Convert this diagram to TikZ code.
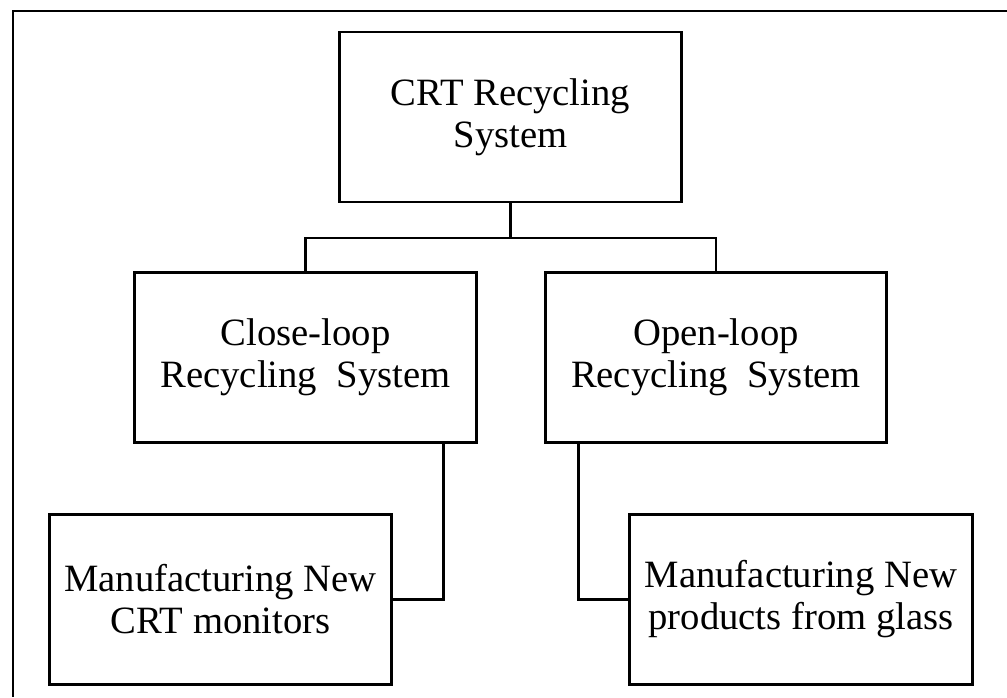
\documentclass[tikz,border=0pt]{standalone}
\usepackage{fontspec}
\setmainfont{Liberation Serif}
\usepackage{tikz}
\usetikzlibrary{positioning, calc}

\begin{document}
\begin{tikzpicture}[
    x=0.75pt, y=-0.75pt,
    system/.style={draw, line width=2.2pt, minimum width=256pt, minimum height=127.5pt, inner sep=2pt, align=center, font=\fontsize{29}{31.5}\selectfont},
    link/.style={line width=2.2pt}
]
    \useasboundingbox (0,0) rectangle (1007,697);
    % frame
    \draw[line width=1.5pt] (1007,11) -- (13,11) -- (13,697);

    % boxes
    \node[system] (crt) at (510.5,117) {CRT Recycling\\System};
    \node[system] (closeloop) at (305.5,357.5) {Close-loop\\Recycling\ \ System};
    \node[system] (openloop) at (716,357.5) {Open-loop\\Recycling\ \ System};
    \node[system, minimum width=257pt] (newcrt) at (220.5,599.5) {Manufacturing New\\CRT monitors};
    \node[system, minimum width=257pt] (newglass) at (801,599.5) {Manufacturing New\\products from glass};

    % connections
    \coordinate (split) at (crt.south |- 0,238);
    \draw[link] (crt.south) -- (split);
    \draw[link] (closeloop.north) |- (split) -| (openloop.north);
    \draw[link] (newcrt.east) -| ([xshift=-25.5pt]closeloop.south east);
    \draw[link] (newglass.west) -| ([xshift=26.25pt]openloop.south west);
\end{tikzpicture}
\end{document}
